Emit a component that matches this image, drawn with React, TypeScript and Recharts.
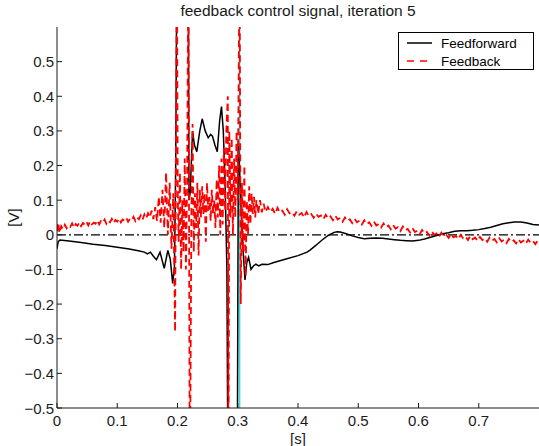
import React from 'react';
import { LineChart, Line, XAxis, YAxis, ReferenceLine, Legend } from 'recharts';

const xTicks = [0, 0.1, 0.2, 0.3, 0.4, 0.5, 0.6, 0.7];
const yTicks = [-0.5, -0.4, -0.3, -0.2, -0.1, 0, 0.1, 0.2, 0.3, 0.4, 0.5];

// [time (s), signal (V)]; values beyond the axis range are clipped
const feedforward: [number, number][] = [
  [0, -0.04], [0.002, -0.02], [0.005, -0.015], [0.02, -0.018], [0.04, -0.022], [0.06, -0.027],
  [0.08, -0.031], [0.1, -0.036], [0.12, -0.041], [0.135, -0.046], [0.145, -0.05], [0.15, -0.055],
  [0.155, -0.05], [0.16, -0.062], [0.165, -0.072], [0.171, -0.05], [0.178, -0.097], [0.184, -0.045],
  [0.188, -0.07], [0.192, -0.14], [0.195, -0.09], [0.197, 0.2], [0.199, 0.8], [0.218, 0.8],
  [0.219, 0.1], [0.221, 0.12], [0.225, 0.3], [0.228, 0.26], [0.232, 0.24], [0.237, 0.3],
  [0.241, 0.335], [0.246, 0.3], [0.251, 0.28], [0.255, 0.29], [0.258, 0.285], [0.262, 0.26],
  [0.266, 0.24], [0.27, 0.33], [0.273, 0.37], [0.276, 0.3], [0.279, 0.15], [0.282, -0.1],
  [0.284, -0.8], [0.299, -0.8], [0.301, 0.27], [0.305, 0.1], [0.309, -0.05], [0.312, -0.13],
  [0.315, -0.08], [0.318, -0.065], [0.322, -0.1], [0.326, -0.09], [0.33, -0.085], [0.335, -0.09],
  [0.34, -0.085], [0.35, -0.086], [0.36, -0.08], [0.38, -0.07], [0.4, -0.06], [0.415, -0.05],
  [0.42, -0.044], [0.43, -0.03], [0.44, -0.015], [0.45, -0.002], [0.46, 0.007], [0.465, 0.009],
  [0.47, 0.008], [0.48, 0.003], [0.49, -0.003], [0.5, -0.008], [0.51, -0.011], [0.52, -0.01],
  [0.53, -0.009], [0.54, -0.01], [0.55, -0.012], [0.56, -0.014], [0.57, -0.016], [0.58, -0.017],
  [0.59, -0.018], [0.6, -0.016], [0.61, -0.012], [0.62, -0.007], [0.63, -0.002], [0.64, 0.003],
  [0.65, 0.006], [0.66, 0.01], [0.67, 0.012], [0.68, 0.012], [0.69, 0.013], [0.7, 0.015],
  [0.71, 0.018], [0.72, 0.022], [0.73, 0.027], [0.74, 0.032], [0.75, 0.035], [0.76, 0.037],
  [0.77, 0.037], [0.78, 0.034], [0.79, 0.03], [0.8, 0.028],
];

const feedback: [number, number][] = [
  [0, 0.01], [0.002, 0.035], [0.004, 0.005], [0.007, 0.025], [0.01, 0.016], [0.013, 0.029],
  [0.016, 0.019], [0.019, 0.027], [0.022, 0.023], [0.025, 0.033], [0.028, 0.021], [0.031, 0.031],
  [0.034, 0.026], [0.037, 0.036], [0.04, 0.025], [0.043, 0.034], [0.046, 0.029], [0.049, 0.037],
  [0.052, 0.027], [0.055, 0.039], [0.058, 0.03], [0.061, 0.035], [0.064, 0.032], [0.067, 0.042],
  [0.07, 0.03], [0.073, 0.04], [0.076, 0.035], [0.079, 0.044], [0.082, 0.032], [0.085, 0.041],
  [0.088, 0.036], [0.091, 0.046], [0.094, 0.034], [0.097, 0.043], [0.1, 0.038], [0.103, 0.047],
  [0.106, 0.036], [0.109, 0.044], [0.112, 0.041], [0.115, 0.049], [0.118, 0.038], [0.121, 0.046],
  [0.124, 0.042], [0.127, 0.052], [0.13, 0.04], [0.133, 0.05], [0.136, 0.045], [0.139, 0.056],
  [0.142, 0.044], [0.145, 0.059], [0.148, 0.047], [0.151, 0.062], [0.154, 0.05], [0.157, 0.07],
  [0.16, 0.045], [0.163, 0.08], [0.166, 0.04], [0.169, 0.11], [0.172, 0.035], [0.175, 0.13],
  [0.178, 0.02], [0.181, 0.18], [0.184, 0.0], [0.187, 0.15], [0.19, -0.04], [0.193, 0.12],
  [0.196, -0.28], [0.199, 0.8], [0.2005, 0.1], [0.202, -0.02], [0.204, 0.18], [0.206, -0.1],
  [0.208, 0.1], [0.21, -0.05], [0.212, 0.22], [0.214, -0.1], [0.216, 0.15], [0.218, 0.8],
  [0.2205, -0.8], [0.223, 0.05], [0.225, 0.32], [0.227, -0.05], [0.229, 0.12], [0.231, 0.02],
  [0.233, 0.15], [0.235, -0.06], [0.237, 0.13], [0.239, 0.05], [0.241, 0.14], [0.243, 0.06],
  [0.245, 0.12], [0.247, -0.02], [0.249, 0.15], [0.251, 0.07], [0.253, 0.11], [0.255, 0.04],
  [0.257, 0.13], [0.259, 0.06], [0.261, 0.1], [0.263, 0.02], [0.265, 0.16], [0.267, 0.05],
  [0.269, 0.2], [0.271, 0.0], [0.273, 0.22], [0.275, 0.03], [0.277, 0.25], [0.279, 0.07],
  [0.281, 0.3], [0.2835, 0.4], [0.2845, -0.8], [0.286, 0.3], [0.288, 0.05], [0.29, 0.28],
  [0.292, 0.0], [0.294, 0.22], [0.296, 0.05], [0.298, 0.3], [0.3, 0.1], [0.303, 0.8],
  [0.305, -0.2], [0.307, 0.15], [0.309, -0.05], [0.311, 0.2], [0.313, -0.12], [0.315, 0.1],
  [0.317, 0.0], [0.319, 0.14], [0.321, 0.03], [0.323, 0.12], [0.325, 0.06], [0.327, 0.11],
  [0.329, 0.05], [0.331, 0.1], [0.334, 0.06], [0.337, 0.1], [0.34, 0.065], [0.343, 0.09],
  [0.346, 0.066], [0.35, 0.08], [0.354, 0.066], [0.358, 0.075], [0.362, 0.06], [0.366, 0.078],
  [0.37, 0.064], [0.374, 0.07], [0.378, 0.058], [0.382, 0.074], [0.386, 0.062], [0.39, 0.066],
  [0.394, 0.055], [0.398, 0.068], [0.402, 0.058], [0.406, 0.063], [0.41, 0.05], [0.414, 0.066],
  [0.418, 0.054], [0.422, 0.06], [0.426, 0.049], [0.43, 0.061], [0.434, 0.052], [0.438, 0.056],
  [0.442, 0.045], [0.446, 0.058], [0.45, 0.047], [0.454, 0.053], [0.458, 0.042], [0.462, 0.055],
  [0.466, 0.044], [0.47, 0.049], [0.474, 0.038], [0.478, 0.05], [0.482, 0.04], [0.486, 0.045],
  [0.49, 0.034], [0.494, 0.046], [0.498, 0.036], [0.502, 0.041], [0.506, 0.03], [0.51, 0.042],
  [0.514, 0.031], [0.518, 0.036], [0.522, 0.026], [0.526, 0.038], [0.53, 0.027], [0.534, 0.031],
  [0.538, 0.021], [0.542, 0.033], [0.546, 0.022], [0.55, 0.027], [0.554, 0.016], [0.558, 0.028],
  [0.562, 0.018], [0.566, 0.022], [0.57, 0.011], [0.574, 0.024], [0.578, 0.013], [0.582, 0.017],
  [0.586, 0.007], [0.59, 0.019], [0.594, 0.008], [0.598, 0.012], [0.602, 0.002], [0.606, 0.014],
  [0.61, 0.004], [0.614, 0.008], [0.618, -0.002], [0.622, 0.01], [0.626, 0.0], [0.63, 0.004],
  [0.634, -0.006], [0.638, 0.006], [0.642, -0.004], [0.646, 0.0], [0.65, -0.009], [0.654, 0.003],
  [0.658, -0.007], [0.662, -0.003], [0.666, -0.012], [0.67, 0.0], [0.674, -0.01], [0.678, -0.005],
  [0.682, -0.015], [0.686, -0.003], [0.69, -0.013], [0.694, -0.008], [0.698, -0.017], [0.702, -0.006],
  [0.706, -0.015], [0.71, -0.01], [0.714, -0.02], [0.718, -0.008], [0.722, -0.017], [0.726, -0.012],
  [0.73, -0.022], [0.734, -0.01], [0.738, -0.019], [0.742, -0.014], [0.746, -0.024], [0.75, -0.012],
  [0.754, -0.021], [0.758, -0.016], [0.762, -0.025], [0.766, -0.013], [0.77, -0.022], [0.774, -0.017],
  [0.778, -0.026], [0.782, -0.014], [0.786, -0.023], [0.79, -0.018], [0.794, -0.027], [0.798, -0.016],
  [0.8, -0.022],
];

const markerTime = 0.303; // cyan vertical marker

const ffData = feedforward.map(([t, v]) => ({ t, v }));
const fbData = feedback.map(([t, v]) => ({ t, v }));

const FONT = '"Liberation Sans", Arial, Helvetica, sans-serif';
const INK = '#1a1a1a';

const fmt = (v: number) => {
  if (Math.abs(v) < 1e-9) return '0';
  const s = Math.abs(v).toFixed(1);
  return v < 0 ? '\u2212' + s : s;
};

const YTick = (props: any) => {
  const { x, y, payload } = props;
  return (
    <g>
      <line x1={x} y1={y} x2={x + 5} y2={y} stroke={INK} strokeWidth={1} />
      <text x={x - 3} y={y + 5.5} textAnchor="end" fontSize={15} fontFamily={FONT} fill={INK}>
        {fmt(payload.value)}
      </text>
    </g>
  );
};

const XTick = (props: any) => {
  const { x, y, payload } = props;
  return (
    <g>
      <line x1={x} y1={y} x2={x} y2={y - 5} stroke={INK} strokeWidth={1} />
      <text x={x} y={y + 17.5} textAnchor="middle" fontSize={15} fontFamily={FONT} fill={INK}>
        {fmt(payload.value)}
      </text>
    </g>
  );
};

const YLabel = (props: any) => {
  const vb = props.viewBox || { x: 0, y: 27, width: 57, height: 381 };
  const cx = vb.x + 13;
  const cy = vb.y + vb.height / 2;
  return (
    <text
      x={cx}
      y={cy}
      transform={`rotate(-90 ${cx} ${cy})`}
      textAnchor="middle"
      dominantBaseline="central"
      fontSize={15}
      fontFamily={FONT}
      fill={INK}
    >
      [V]
    </text>
  );
};

const LegendBox = () => (
  <svg width={136} height={38} style={{ display: 'block' }}>
    <rect x={0.5} y={0.5} width={135} height={37} fill="#fff" stroke="#000" strokeWidth={1} />
    <line x1={9} y1={11} x2={34} y2={11} stroke="#000" strokeWidth={1.5} />
    <text x={43} y={16} fontSize={13.5} fontFamily={FONT} fill="#000">Feedforward</text>
    <line x1={9} y1={29} x2={30} y2={29} stroke="#ff0000" strokeWidth={1.5} strokeDasharray="7 6" />
    <text x={43} y={34} fontSize={13.5} fontFamily={FONT} fill="#000">Feedback</text>
  </svg>
);

export default function App() {
  return (
    <div style={{ position: 'absolute', left: 0, top: 0, width: 539, height: 446, background: '#fff' }}>
      <div
        style={{
          position: 'absolute',
          left: 57,
          width: 482,
          top: 2,
          textAlign: 'center',
          fontFamily: FONT,
          fontSize: 15.5,
          lineHeight: '18px',
          color: INK,
          zIndex: 2,
        }}
      >
        feedback control signal, iteration 5
      </div>
      <LineChart width={539} height={446} margin={{ top: 27, right: 0, bottom: 0, left: 0 }}>
        <XAxis
          dataKey="t"
          type="number"
          domain={[0, 0.8]}
          ticks={xTicks}
          allowDataOverflow
          height={38}
          tickSize={0}
          tickMargin={0}
          tickLine={false}
          tick={<XTick />}
          axisLine={{ stroke: INK, strokeWidth: 1 }}
          interval={0}
          label={{ value: '[s]', position: 'insideBottom', offset: 2, fontSize: 15, fontFamily: FONT, fill: INK }}
        />
        <YAxis
          type="number"
          domain={[-0.5, 0.6]}
          ticks={yTicks}
          allowDataOverflow
          width={57}
          tickSize={0}
          tickMargin={0}
          tickLine={false}
          tick={<YTick />}
          axisLine={{ stroke: INK, strokeWidth: 1 }}
          interval={0}
          label={{ content: <YLabel /> }}
        />
        <ReferenceLine y={0} stroke="#000" strokeWidth={1.2} strokeDasharray="9 3 2 3" />
        <ReferenceLine x={markerTime} stroke="#33dde0" strokeWidth={1.6} />
        <Line
          data={ffData}
          dataKey="v"
          type="linear"
          stroke="#000"
          strokeWidth={1.5}
          dot={false}
          isAnimationActive={false}
          name="Feedforward"
        />
        <Line
          data={fbData}
          dataKey="v"
          type="linear"
          stroke="#ff0000"
          strokeWidth={1.8}
          strokeDasharray="7 4"
          dot={false}
          isAnimationActive={false}
          name="Feedback"
        />
        <Legend
          layout="horizontal"
          verticalAlign="middle"
          align="center"
          width={136}
          wrapperStyle={{ left: 398, top: 32, width: 136, height: 38 }}
          content={<LegendBox />}
        />
      </LineChart>
    </div>
  );
}
